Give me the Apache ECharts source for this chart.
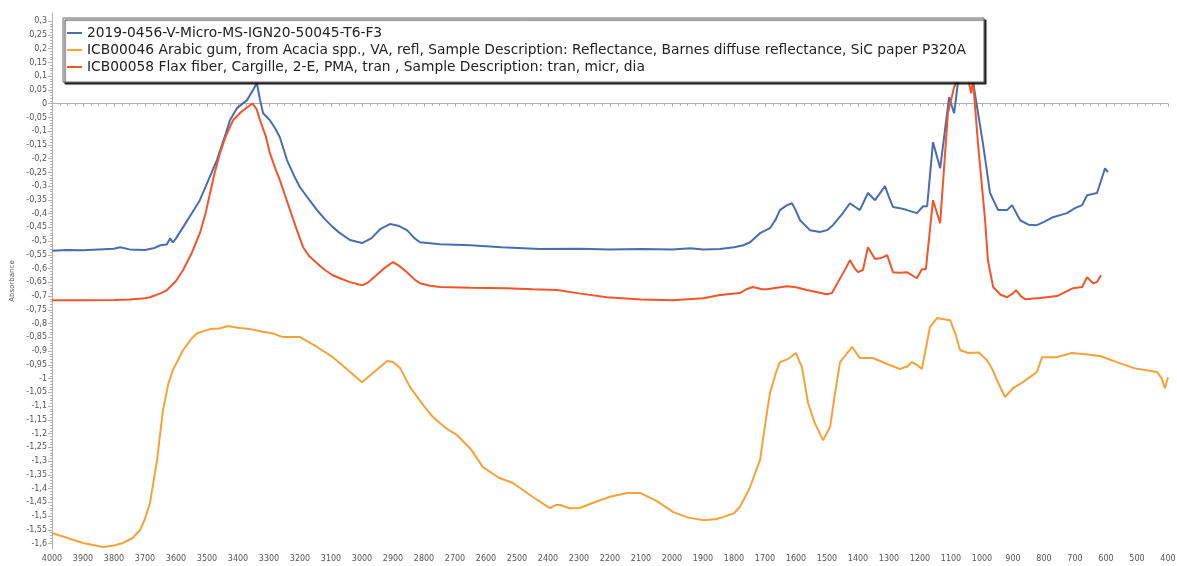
<!DOCTYPE html>
<html>
<head>
<meta charset="utf-8">
<script src="https://cdn.jsdelivr.net/npm/echarts@6/dist/echarts.min.js"></script>
<style>
  html, body { margin: 0; padding: 0; background: #fff; }
  #chart { width: 1177px; height: 566px; }
</style>
</head>
<body>
<div id="chart"></div>
<script>
// series names
const nameBlue = '2019-0456-V-Micro-MS-IGN20-50045-T6-F3';
const nameOrange = 'ICB00046 Arabic gum, from Acacia spp., VA, refl, Sample Description: Reflectance, Barnes diffuse reflectance, SiC paper P320A';
const nameRed = 'ICB00058 Flax fiber, Cargille, 2-E, PMA, tran , Sample Description: tran, micr, dia';

// y tick labels (absorbance)
const yTicks = [0.3, 0.25, 0.2, 0.15, 0.1, 0.05, 0, -0.05, -0.1, -0.15, -0.2, -0.25, -0.3, -0.35,
  -0.4, -0.45, -0.5, -0.55, -0.6, -0.65, -0.7, -0.75, -0.8, -0.85, -0.9, -0.95, -1, -1.05, -1.1,
  -1.15, -1.2, -1.25, -1.3, -1.35, -1.4, -1.45, -1.5, -1.55, -1.6];

// [wavenumber, absorbance]
const blueData = [
  [4000,-0.535],[3950,-0.532],[3900,-0.533],[3850,-0.530],[3800,-0.528],[3780,-0.522],[3750,-0.530],
  [3700,-0.532],[3670,-0.525],[3650,-0.515],[3630,-0.512],[3619,-0.49],[3610,-0.505],[3600,-0.49],
  [3577,-0.449],[3550,-0.40],[3523,-0.351],[3500,-0.29],[3468,-0.205],[3440,-0.11],[3426,-0.06],
  [3403,-0.016],[3371,0.013],[3352,0.049],[3339,0.075],[3330,0.02],[3319,-0.035],[3297,-0.06],
  [3280,-0.09],[3265,-0.122],[3242,-0.205],[3220,-0.26],[3200,-0.304],[3170,-0.35],[3145,-0.387],
  [3120,-0.42],[3094,-0.449],[3071,-0.471],[3039,-0.496],[3000,-0.507],[2970,-0.49],[2940,-0.455],
  [2910,-0.438],[2880,-0.445],[2855,-0.46],[2830,-0.49],[2813,-0.504],[2748,-0.511],[2650,-0.515],
  [2550,-0.522],[2426,-0.529],[2300,-0.528],[2200,-0.530],[2100,-0.529],[2000,-0.530],[1940,-0.526],
  [1900,-0.530],[1845,-0.529],[1800,-0.522],[1770,-0.515],[1748,-0.504],[1716,-0.471],[1684,-0.453],
  [1665,-0.42],[1652,-0.387],[1630,-0.37],[1613,-0.362],[1600,-0.39],[1587,-0.424],[1555,-0.46],
  [1523,-0.467],[1500,-0.46],[1481,-0.442],[1450,-0.40],[1426,-0.362],[1410,-0.375],[1394,-0.387],
  [1368,-0.325],[1345,-0.351],[1313,-0.30],[1300,-0.34],[1287,-0.376],[1265,-0.38],[1242,-0.387],
  [1210,-0.398],[1190,-0.373],[1177,-0.373],[1158,-0.14],[1135,-0.235],[1106,0.024],[1090,-0.035],
  [1075,0.10],[1060,0.16],[1045,0.15],[1030,0.09],[1023,0.038],[997,-0.144],[974,-0.325],
  [948,-0.387],[919,-0.387],[903,-0.369],[877,-0.424],[850,-0.44],[823,-0.442],[800,-0.43],
  [771,-0.413],[726,-0.398],[700,-0.38],[677,-0.369],[661,-0.333],[629,-0.325],[603,-0.235],[594,-0.249]
];

const orangeData = [
  [4000,-1.562],[3950,-1.58],[3900,-1.598],[3835,-1.613],[3800,-1.607],[3771,-1.598],[3740,-1.58],
  [3716,-1.551],[3700,-1.51],[3684,-1.453],[3661,-1.296],[3642,-1.115],[3625,-1.02],[3610,-0.969],
  [3577,-0.896],[3550,-0.855],[3532,-0.835],[3490,-0.82],[3460,-0.818],[3432,-0.809],[3400,-0.815],
  [3361,-0.82],[3320,-0.83],[3290,-0.835],[3255,-0.849],[3200,-0.849],[3145,-0.885],[3094,-0.922],
  [3071,-0.944],[3039,-0.975],[3000,-1.013],[2960,-0.975],[2919,-0.936],[2900,-0.94],[2877,-0.962],
  [2845,-1.031],[2800,-1.10],[2771,-1.14],[2730,-1.18],[2694,-1.205],[2650,-1.255],[2610,-1.322],
  [2560,-1.36],[2513,-1.38],[2450,-1.43],[2394,-1.471],[2375,-1.46],[2361,-1.46],[2330,-1.472],
  [2297,-1.471],[2250,-1.45],[2200,-1.43],[2145,-1.416],[2103,-1.416],[2050,-1.445],[1997,-1.485],
  [1950,-1.505],[1900,-1.515],[1860,-1.512],[1835,-1.504],[1800,-1.49],[1781,-1.467],[1750,-1.40],
  [1716,-1.296],[1700,-1.17],[1684,-1.053],[1665,-0.98],[1652,-0.94],[1626,-0.929],[1600,-0.907],
  [1581,-0.958],[1561,-1.089],[1540,-1.16],[1513,-1.224],[1490,-1.176],[1475,-1.06],[1458,-0.94],
  [1440,-0.915],[1419,-0.885],[1394,-0.925],[1352,-0.925],[1306,-0.947],[1265,-0.965],[1240,-0.955],
  [1226,-0.94],[1210,-0.95],[1194,-0.965],[1168,-0.813],[1145,-0.78],[1110,-0.787],[1103,-0.787],
  [1085,-0.84],[1071,-0.896],[1045,-0.907],[1010,-0.905],[984,-0.933],[965,-0.97],[952,-1.005],
  [926,-1.067],[900,-1.035],[868,-1.013],[840,-0.99],[823,-0.976],[806,-0.922],[758,-0.922],
  [710,-0.907],[660,-0.912],[619,-0.918],[565,-0.94],[510,-0.962],[470,-0.97],[435,-0.976],
  [420,-1.0],[410,-1.035],[400,-0.995]
];

const redData = [
  [4000,-0.715],[3900,-0.715],[3800,-0.714],[3750,-0.712],[3700,-0.708],[3684,-0.704],[3650,-0.69],
  [3629,-0.678],[3600,-0.645],[3577,-0.605],[3550,-0.545],[3523,-0.471],[3505,-0.40],[3490,-0.325],
  [3475,-0.25],[3458,-0.18],[3440,-0.12],[3416,-0.06],[3390,-0.03],[3361,-0.005],[3352,0.0],
  [3340,-0.02],[3329,-0.06],[3310,-0.12],[3297,-0.18],[3280,-0.235],[3265,-0.278],[3232,-0.387],
  [3210,-0.46],[3190,-0.522],[3170,-0.555],[3145,-0.58],[3120,-0.605],[3094,-0.624],[3071,-0.635],
  [3039,-0.649],[3010,-0.658],[2997,-0.66],[2980,-0.65],[2965,-0.635],[2930,-0.6],[2900,-0.576],
  [2880,-0.59],[2855,-0.613],[2830,-0.64],[2813,-0.653],[2780,-0.662],[2748,-0.667],[2650,-0.67],
  [2532,-0.671],[2450,-0.675],[2371,-0.678],[2300,-0.69],[2210,-0.704],[2100,-0.712],[1997,-0.715],
  [1900,-0.708],[1845,-0.696],[1781,-0.689],[1760,-0.675],[1739,-0.667],[1710,-0.675],[1694,-0.675],
  [1629,-0.664],[1600,-0.668],[1565,-0.678],[1500,-0.693],[1484,-0.689],[1460,-0.64],[1440,-0.60],
  [1426,-0.569],[1410,-0.60],[1400,-0.613],[1384,-0.605],[1368,-0.522],[1345,-0.565],[1330,-0.562],
  [1319,-0.558],[1306,-0.551],[1287,-0.613],[1265,-0.615],[1242,-0.613],[1210,-0.635],[1194,-0.602],
  [1181,-0.602],[1158,-0.351],[1135,-0.435],[1110,-0.035],[1090,0.06],[1071,0.11],[1050,0.12],
  [1035,0.038],[1029,0.085],[1013,-0.144],[990,-0.424],[981,-0.569],[964,-0.667],[940,-0.695],
  [919,-0.704],[900,-0.69],[890,-0.678],[875,-0.70],[861,-0.711],[813,-0.707],[758,-0.70],
  [706,-0.671],[677,-0.667],[661,-0.631],[642,-0.653],[629,-0.649],[616,-0.624]
];

// small ruler ticks between the labelled ones
let yMinor = [];
for (let i = 0; i < yTicks.length - 1; i++) {
  for (let k = 1; k < 5; k++) {
    yMinor.push(yTicks[i] + (yTicks[i + 1] - yTicks[i]) * k / 5);
  }
}

const fmt = function (v) {
  return String(Math.round(v * 100) / 100).replace('.', ',');
};

const axisGray = '#b0b0b0';

const chart = echarts.init(document.getElementById('chart'));
chart.setOption({
  backgroundColor: '#fff',
  animation: false,
  textStyle: {fontFamily: 'DejaVu Sans'},
  grid: {left: 52, right: 9, top: 13, bottom: 17, outerBoundsMode: 'none', containLabel: false},
  legend: {
    orient: 'vertical',
    left: 63,
    top: 18,
    padding: [8, 18, 8, 4],
    itemGap: 3,
    itemWidth: 15,
    itemHeight: 2,
    icon: 'rect',
    backgroundColor: '#fff',
    borderColor: '#666',
    borderWidth: 1,
    shadowColor: 'rgba(0,0,0,0.8)',
    shadowOffsetX: 2,
    shadowOffsetY: 2,
    shadowBlur: 1,
    textStyle: {fontFamily: 'DejaVu Sans', fontSize: 13.8, color: '#222'},
    data: [nameBlue, nameOrange, nameRed]
  },
  xAxis: {
    type: 'value',
    inverse: true,
    min: 400,
    max: 4000,
    interval: 100,
    name: 'Wavenumber (cm-1)',
    nameLocation: 'middle',
    nameGap: 13,
    nameTextStyle: {fontSize: 8, color: '#555'},
    axisLine: {lineStyle: {color: axisGray}},
    axisTick: {length: 3, lineStyle: {color: axisGray}},
    minorTick: {show: true, splitNumber: 4, length: 2, lineStyle: {color: axisGray}},
    axisLabel: {fontSize: 8, color: '#555', margin: 6, formatter: function (v) { return String(v); }},
    splitLine: {show: false}
  },
  yAxis: [
    {
      type: 'value',
      position: 'left',
      min: -1.62,
      max: 0.33,
      name: 'Absorbance',
      nameLocation: 'middle',
      nameGap: 35,
      nameTextStyle: {fontSize: 7, color: '#555'},
      axisLine: {show: true, lineStyle: {color: axisGray}},
      axisTick: {show: true, length: 4, customValues: yTicks, lineStyle: {color: axisGray}},
      axisLabel: {fontSize: 8, color: '#555', margin: 5, customValues: yTicks, formatter: fmt},
      splitLine: {show: false}
    },
    {
      type: 'value',
      position: 'left',
      min: -1.62,
      max: 0.33,
      axisLine: {show: false},
      axisTick: {show: true, length: 2, customValues: yMinor, lineStyle: {color: axisGray}},
      axisLabel: {show: false},
      splitLine: {show: false}
    }
  ],
  series: [
    {
      name: nameBlue, type: 'line', data: blueData, showSymbol: false,
      itemStyle: {color: '#4a6db0'}, lineStyle: {width: 2, color: '#4a6db0'}
    },
    {
      name: nameOrange, type: 'line', data: orangeData, showSymbol: false,
      itemStyle: {color: '#f6a23a'}, lineStyle: {width: 2, color: '#f6a23a'}
    },
    {
      name: nameRed, type: 'line', data: redData, showSymbol: false,
      itemStyle: {color: '#f2552a'}, lineStyle: {width: 2, color: '#f2552a'}
    }
  ]
});
</script>
</body>
</html>
